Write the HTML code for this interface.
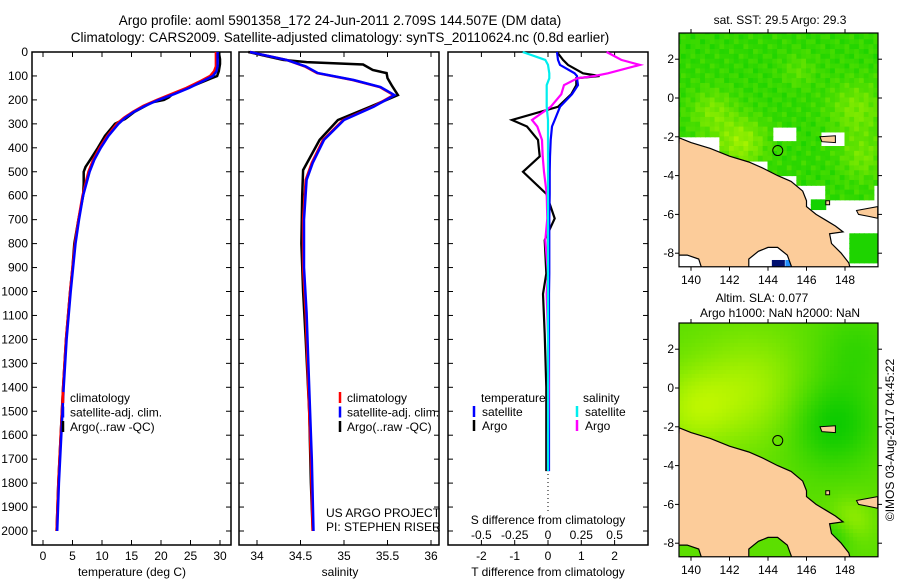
<!DOCTYPE html>
<html><head><meta charset="utf-8"><style>
body{margin:0;background:#fff}
svg{display:block;font-family:"Liberation Sans",sans-serif}
</style></head><body>
<svg id="s" width="900" height="580" viewBox="0 0 900 580" xmlns="http://www.w3.org/2000/svg">
<text x="340" y="25" font-size="13.5" text-anchor="middle">Argo profile: aoml 5901358_172 24-Jun-2011 2.709S 144.507E (DM data)</text>
<text x="340" y="42" font-size="13.5" text-anchor="middle">Climatology: CARS2009. Satellite-adjusted climatology: synTS_20110624.nc (0.8d earlier)</text>
<g id="plots"></g>
<text x="780" y="24" font-size="12" text-anchor="middle">sat. SST: 29.5 Argo: 29.3</text>
<text x="762" y="302" font-size="12" text-anchor="middle">Altim. SLA: 0.077</text>
<text x="780" y="317" font-size="12" text-anchor="middle">Argo h1000: NaN h2000: NaN</text>
<text transform="translate(894,440) rotate(-90)" font-size="12" text-anchor="middle">©IMOS 03-Aug-2017 04:45:22</text>
</svg>
<script>
// ---- data ----
const tDepth=[0,30,60,80,100,120,150,175,200,225,250,275,300,350,400,450,500,600,700,800,900,1000,1200,1400,1600,1800,2000];
const tClim=[29.3,29.3,29.3,29.0,28.3,26.8,24.3,21.8,19.3,17.0,15.2,13.7,12.5,10.9,9.6,8.5,7.7,6.7,6.0,5.4,5.0,4.6,3.9,3.4,3.0,2.6,2.3];
const tSat=[29.6,29.6,29.6,29.4,28.8,27.2,24.8,22.3,19.6,17.3,15.4,13.9,12.8,11.1,9.8,8.7,7.9,6.8,6.1,5.5,5.1,4.7,4.0,3.5,3.1,2.7,2.4];
const aDepth=[0,30,50,80,100,110,150,175,190,200,210,250,280,290,300,350,400,450,480,500,550,600,700,800,900,1000,1200,1400,1600,1800,2000];
const tArgo=[29.8,30.0,30.0,29.8,29.5,28.5,24.6,22.0,21.3,20.5,18.5,15.5,13.9,13.0,12.2,10.5,9.3,8.0,7.2,6.9,6.9,6.8,6.0,5.3,5.0,4.6,3.9,3.4,3.0,2.6,2.3];
const sDepth=[0,33,60,88,117,146,180,229,284,367,463,534,700,900,1090,1400,1700,2000];
const sClim=[33.92,34.34,34.55,34.69,35.10,35.41,35.57,35.33,34.99,34.76,34.63,34.56,34.53,34.53,34.56,34.59,34.62,34.64];
const sSat=[33.92,34.34,34.56,34.70,35.11,35.42,35.58,35.34,35.00,34.77,34.64,34.57,34.54,34.54,34.57,34.60,34.63,34.65];
const sArgoDepth=[0,33,42,52,75,88,109,140,180,229,284,367,493,600,800,1000,1200,1500,1800,2000];
const sArgo=[33.9,34.3,34.57,35.22,35.33,35.49,35.50,35.55,35.62,35.30,34.93,34.72,34.53,34.52,34.51,34.53,34.56,34.60,34.62,34.64];
const dDepth=[0,33,54,89,100,110,138,176,229,284,311,367,436,500,592,695,786,925,1010,1177,1400,1600,1750];
const dTsat=[0.27,0.30,0.36,0.8,0.87,0.87,0.9,0.72,0.36,0.2,0.12,0.08,0.06,0.05,0.05,0.04,0.04,0.04,0.03,0.03,0.03,0.03,0.03];
const dTargo=[0.27,0.45,0.6,1.05,1.55,0.85,0.85,0.7,0.3,-1.08,-0.63,-0.3,-0.25,-0.75,-0.05,0.2,-0.1,-0.05,-0.15,-0.1,-0.05,-0.05,-0.05];
const dSargo=[0.44,0.55,0.69,0.45,0.35,0.22,0.12,0.1,0.02,-0.12,-0.08,-0.045,-0.04,-0.03,-0.01,-0.005,-0.02,0,-0.01,0,0.005,0,0];
const dSsat=[-0.19,-0.02,0,0.01,0.01,0.01,-0.01,-0.01,-0.01,0,0,0,0,0,0,0,0,0,0,0,0,0,0];
const depthTicks=[0,100,200,300,400,500,600,700,800,900,1000,1100,1200,1300,1400,1500,1600,1700,1800,1900,2000];
const tTicks=[0,5,10,15,20,25,30];
const sTicks=[34,34.5,35,35.5,36];
const dTTicks=[-2,-1,0,1,2];
const dSTicks=[-0.5,-0.25,0,0.25,0.5];
const lonTicks=[140,142,144,146,148];
const latTicks=[2,0,-2,-4,-6,-8];

const NS='http://www.w3.org/2000/svg';
const root=document.getElementById('plots');
function mk(tag,at,parent){const e=document.createElementNS(NS,tag);for(const k in at)e.setAttribute(k,at[k]);(parent||root).appendChild(e);return e;}
const TOP=52,BOT=545;
const yD=d=>TOP+d*0.2395;
const xT=t=>43+t*5.9;
const xS=s=>257+(s-34)*87;
const xDT=t=>548+t*33.3;
const xDS=s=>548+s*133.2;

function box(x0,x1,name){
  const r=mk('rect',{x:x0,y:TOP,width:x1-x0,height:BOT-TOP,fill:'none',stroke:'#000','stroke-width':1.5});
  
  
  depthTicks.forEach(d=>{const y=yD(d);
    mk('line',{x1:x0,x2:x0+5,y1:y,y2:y,stroke:'#000'});mk('line',{x1:x1-5,x2:x1,y1:y,y2:y,stroke:'#000'});});
}
function line(xs,ds,sx,color,w,name){
  const p=xs.map((v,i)=>sx(v).toFixed(1)+','+yD(ds[i]).toFixed(1)).join(' ');
  const e=mk('polyline',{points:p,fill:'none',stroke:color,'stroke-width':w});
  
  
}
function txt(x,y,s,anchor,size,name){const e=mk('text',{x:x,y:y,'font-size':size||12,'text-anchor':anchor||'middle'});e.textContent=s;
  
  return e;}

// Panel 1
box(32,231,'temperature-panel');
depthTicks.forEach(d=>txt(28,yD(d)+4,String(d),'end',12,'depth-tick-label'));
tTicks.forEach(t=>{mk('line',{x1:xT(t),x2:xT(t),y1:BOT,y2:BOT-5,stroke:'#000'});mk('line',{x1:xT(t),x2:xT(t),y1:TOP,y2:TOP+5,stroke:'#000'});txt(xT(t),560,String(t),'middle',12,'temperature-tick-label');});
txt(132,576,'temperature (deg C)','middle',12,'temperature-axis-title');
line(tArgo,aDepth,xT,'#000',2.5,'temp-argo-line');
line(tClim,tDepth,xT,'#f00',2.5,'temp-climatology-line');
line(tSat,tDepth,xT,'#00f',2.5,'temp-satellite-line');
[['#f00','climatology'],['#00f','satellite-adj. clim.'],['#000','Argo(..raw -QC)']].forEach((l,i)=>{const y=398+i*14.5;
  mk('line',{x1:63,x2:63,y1:y-6,y2:y+5,stroke:l[0],'stroke-width':2.5});txt(70,y+4,l[1],'start',12,'temp-legend-entry');});

// Panel 2
box(239,439,'salinity-panel');
sTicks.forEach(t=>{mk('line',{x1:xS(t),x2:xS(t),y1:BOT,y2:BOT-5,stroke:'#000'});mk('line',{x1:xS(t),x2:xS(t),y1:TOP,y2:TOP+5,stroke:'#000'});txt(xS(t),560,String(t),'middle',12,'salinity-tick-label');});
txt(340,576,'salinity','middle',12,'salinity-axis-title');
line(sArgo,sArgoDepth,xS,'#000',2.5,'sal-argo-line');
line(sClim,sDepth,xS,'#f00',2.5,'sal-climatology-line');
line(sSat,sDepth,xS,'#00f',2.5,'sal-satellite-line');
[['#f00','climatology'],['#00f','satellite-adj. clim.'],['#000','Argo(..raw -QC)']].forEach((l,i)=>{const y=398+i*14.5;
  mk('line',{x1:340,x2:340,y1:y-6,y2:y+5,stroke:l[0],'stroke-width':2.5});txt(347,y+4,l[1],'start',12,'sal-legend-entry');});
txt(326,517,'US ARGO PROJECT','start',12,'project-label');
txt(326,531,'PI: STEPHEN RISER','start',12,'pi-label');

// Panel 3
box(448,648,'difference-panel');
dTTicks.forEach(t=>{mk('line',{x1:xDT(t),x2:xDT(t),y1:BOT,y2:BOT-5,stroke:'#000'});mk('line',{x1:xDT(t),x2:xDT(t),y1:TOP,y2:TOP+5,stroke:'#000'});txt(xDT(t),560,String(t),'middle',12,'t-diff-tick-label');});
dSTicks.forEach(t=>txt(xDS(t),539,String(t),'middle',12,'s-diff-tick-label'));
txt(548,524,'S difference from climatology','middle',12,'s-diff-axis-title');
txt(548,576,'T difference from climatology','middle',12,'t-diff-axis-title');
mk('line',{x1:548,x2:548,y1:470,y2:512,stroke:'#000','stroke-dasharray':'1 3'});
line(dTargo,dDepth,xDT,'#000',2.2,'t-diff-argo-line');
line(dTsat,dDepth,xDT,'#00f',2.2,'t-diff-satellite-line');
line(dSargo,dDepth,xDS,'#f0f',2.2,'s-diff-argo-line');
line(dSsat,dDepth,xDS,'#0ee',2.2,'s-diff-satellite-line');
txt(481,402,'temperature','start',12,'diff-legend-temperature');
txt(583,402,'salinity','start',12,'diff-legend-salinity');
[['#00f',474,'satellite',416],['#000',474,'Argo',430],['#0ee',577,'satellite',416],['#f0f',577,'Argo',430]].forEach(l=>{
  mk('line',{x1:l[1],x2:l[1],y1:l[3]-10,y2:l[3]+1,stroke:l[0],'stroke-width':2.5});txt(l[1]+8,l[3],l[2],'start',12,'diff-legend-entry');});

// Maps
const MX0=679,MX1=878;
const mx=lon=>691+(lon-140)*19.25;
const land=[[139.38,-2.05],[140,-2.3],[141,-2.6],[142,-3.0],[143,-3.3],[143.7,-3.6],[144.5,-4.0],[145.2,-4.3],[145.8,-4.8],[146.0,-5.3],[146.0,-5.6],[146.5,-6.0],[147.0,-6.3],[147.5,-6.6],[147.9,-6.9],[147.2,-7.0],[147.3,-7.5],[147.8,-8.0],[148.2,-8.5],[148.3,-8.9],[145.3,-8.9],[145,-8.1],[144.5,-7.7],[144,-7.7],[143.5,-7.9],[143,-8.3],[143,-8.9],[140.6,-8.9],[140.4,-8.3],[139.8,-8.1],[139.2,-8.1]];
const isl=[[[148.6,-5.8],[149.7,-5.6],[149.7,-6.2],[149.2,-6.1],[148.7,-6.0]],[[146.7,-2.0],[147.5,-1.95],[147.5,-2.3],[146.8,-2.25]],[[147.0,-5.3],[147.2,-5.3],[147.2,-5.5],[147.0,-5.5]]];
const gauss=(lon,lat,cl,ca,s)=>Math.exp(-((lon-cl)**2+(lat-ca)**2)/(2*s*s));
function drawMap(y0,type,name){
  const my=lat=>y0-lat*19.4;
  const g=mk('g',{});
  
  
  const cid='c'+type;
  const cp=mk('clipPath',{id:cid},g);mk('rect',{x:MX0,y:my(3.35),width:MX1-MX0,height:my(-8.7)-my(3.35)},cp);
  const inner=mk('g',{'clip-path':'url(#'+cid+')'},g);
  mk('rect',{x:MX0,y:my(3.35),width:MX1-MX0,height:my(-8.7)-my(3.35),fill:'#fff'},inner);
  const st=type==='sst'?0.25:0.2;
  for(let lon=139.25;lon<149.75;lon+=st){for(let lat=3.5;lat>-8.75;lat-=st){
    let v,show=true,r,gg,b=0;
    if(type==='sst'){
      v=0.25+0.5*gauss(lon,lat,142.5,-2.2,0.9)+0.35*gauss(lon,lat,141,-0.6,0.8)+0.35*gauss(lon,lat,148.5,-0.5,1.0)+0.3*gauss(lon,lat,148.8,-3,0.8)+0.2*gauss(lon,lat,145.5,1.5,0.6)
        +0.12*Math.sin(lon*7.3+lat*3.1)*Math.cos(lat*6.7-lon*2.2);
      let lim=lon<141.5?-1.9:lon<144?-3.2:lon<145.5?-3.9:lon<147?-4.3:lon<149.3?-5.0:-4.3;
      if(lat<lim)show=false;
      if(lon>144.2&&lon<145.3&&lat<-1.4&&lat>-2.1)show=false;
      if(lon>146.5&&lon<147.8&&lat<-1.5&&lat>-2.4)show=false;
      if(lon>148.2&&lat<-6.8&&lat>-8.3){show=true;v=0.15;}
      if(lon>146.1&&lon<147&&lat<-5.0&&lat>-5.6){show=true;v=0.1;}
      v=Math.max(0,Math.min(1,v));
      r=Math.round(v*200);gg=Math.round(205+v*45);
    }else{
      v=0.45+0.35*gauss(lon,lat,143,0,2.0)+0.35*gauss(lon,lat,140,-1,1.5)+0.3*gauss(lon,lat,148.2,-6.8,0.8)
        -0.4*gauss(lon,lat,147.3,-1.8,1.6)-0.3*gauss(lon,lat,147.5,-7.5,0.7)-0.2*gauss(lon,lat,148.5,2,1.5);
      v=Math.max(0,Math.min(1,v));
      r=Math.round(v*205);gg=Math.round(200+v*50);
    }
    if(!show)continue;
    mk('rect',{x:mx(lon)-0.5,y:my(lat)-0.5,width:st*19.25+1,height:st*19.4+1,fill:'rgb('+r+','+gg+','+b+')'},inner);
  }}
  if(type==='sst'){mk('rect',{x:mx(144.2),y:my(-8.35),width:13,height:8,fill:'#001070'},inner);mk('rect',{x:mx(144.9),y:my(-8.35),width:12,height:8,fill:'#2090ff'},inner);}
  const pts=l=>l.map(p=>mx(p[0]).toFixed(1)+','+my(p[1]).toFixed(1)).join(' ');
  mk('polygon',{points:pts(land),fill:'#fccc9a',stroke:'#000','stroke-width':1.2},inner);
  isl.forEach(l=>mk('polygon',{points:pts(l),fill:'#fccc9a',stroke:'#000','stroke-width':1},inner));
  mk('circle',{cx:mx(144.507),cy:my(-2.709),r:5,fill:'none',stroke:'#000','stroke-width':1},inner);
  mk('rect',{x:MX0,y:my(3.35),width:MX1-MX0,height:my(-8.7)-my(3.35),fill:'none',stroke:'#000','stroke-width':1.2},g);
  lonTicks.forEach(l=>{mk('line',{x1:mx(l),x2:mx(l),y1:my(-8.7),y2:my(-8.7)+4,stroke:'#000'},g);mk('line',{x1:mx(l),x2:mx(l),y1:my(3.35),y2:my(3.35)-4,stroke:'#000'},g);
    const t=txt(mx(l),my(-8.7)+17,String(l),'middle',12,'map-lon-tick-label');g.appendChild(t);});
  latTicks.forEach(l=>{mk('line',{x1:MX0-4,x2:MX0,y1:my(l),y2:my(l),stroke:'#000'},g);mk('line',{x1:MX1,x2:MX1+4,y1:my(l),y2:my(l),stroke:'#000'},g);
    const t=txt(674,my(l)+4,String(l),'end',12,'map-lat-tick-label');g.appendChild(t);});
}
drawMap(98,'sst','sst-map');
drawMap(388,'sla','sla-map');
</script>
</body></html>
